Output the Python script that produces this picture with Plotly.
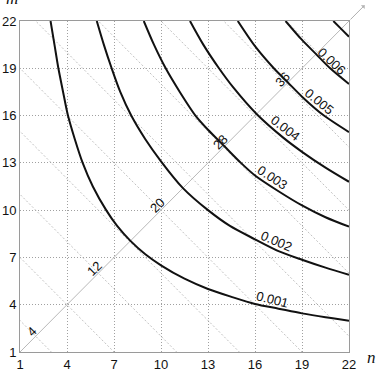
import plotly.graph_objects as go

# ---- data ----
tick_vals = [1, 4, 7, 10, 13, 16, 19, 22]
s_values = [4, 8, 12, 16, 20, 24, 28, 32, 36, 40]
s_labels = [4, 12, 20, 28, 36]

curve_labels = ["0.001", "0.002", "0.003", "0.004", "0.005", "0.006", ""]

c1_n = [2.95, 3.2, 3.45, 3.75, 4.05, 4.5, 5.0, 5.65, 6.5, 7.2, 8.05, 9.0, 10.0, 11.5, 13.0, 14.5, 16.0, 17.5, 19.0, 20.5, 22.0]
c1_m = [22.0, 20.5, 19.0, 17.5, 16.05, 14.5, 13.0, 11.5, 10.0, 9.0, 8.05, 7.2, 6.5, 5.65, 5.0, 4.5, 4.05, 3.75, 3.45, 3.2, 2.98]

c2_n = [5.9, 6.35, 6.85, 7.4, 8.1, 9.0, 10.0, 11.4, 13.0, 14.4, 16.0, 17.5, 19.0, 20.5, 22.0]
c2_m = [22.0, 20.5, 19.0, 17.5, 16.0, 14.5, 13.1, 11.4, 10.0, 9.0, 8.15, 7.4, 6.85, 6.35, 5.9]

c3_n = [8.9, 9.55, 10.3, 11.2, 12.2, 13.0, 14.05, 15.1, 16.0, 17.5, 19.0, 20.5, 22.0]
c3_m = [22.0, 20.5, 19.0, 17.5, 16.0, 15.1, 14.05, 13.0, 12.2, 11.2, 10.3, 9.55, 8.95]

c4_n = [11.85, 12.7, 13.7, 14.6, 16.1, 17.8, 19.0, 20.5, 22.0]
c4_m = [22.0, 20.5, 19.0, 17.8, 16.1, 14.6, 13.7, 12.7, 11.8]

c5_n = [14.9, 16.0, 17.2, 18.1, 19.0, 20.4, 22.0]
c5_m = [22.0, 20.4, 19.0, 18.1, 17.2, 16.0, 14.95]

c6_n = [17.95, 19.0, 19.9, 20.8, 22.0]
c6_m = [22.0, 20.8, 19.9, 19.0, 18.0]

c7_n = [21.0, 21.5, 22.0]
c7_m = [22.0, 21.5, 21.0]

curves_n = [c1_n, c2_n, c3_n, c4_n, c5_n, c6_n, c7_n]
curves_m = [c1_m, c2_m, c3_m, c4_m, c5_m, c6_m, c7_m]

# ---- figure ----
fig = go.Figure()

# anti-diagonal dotted lines n + m = s
for s in s_values:
    fig.add_trace(go.Scatter(x=[s - 25, 25], y=[25, s - 25], mode="lines",
                             line=dict(color="#c2c2c2", width=1, dash="2px,2px"),
                             hoverinfo="skip", showlegend=False))

# main diagonal
fig.add_trace(go.Scatter(x=[1, 22], y=[1, 22], mode="lines",
                         line=dict(color="#b8b8b8", width=1),
                         hoverinfo="skip", showlegend=False))

# level curves
for xs, ys in zip(curves_n, curves_m):
    fig.add_trace(go.Scatter(x=xs, y=ys, mode="lines",
                             line=dict(color="#111111", width=2, shape="spline", smoothing=0.8),
                             hoverinfo="skip", showlegend=False))

annotations = []

# curve labels (position along curve, angle)
label_pos = [(17.1, 4.3, 14), (17.4, 8.0, 23), (17.1, 12.05, 33),
             (17.96, 15.18, 37), (20.1, 16.9, 39), (20.9, 19.4, 43)]
for txt, (lx, ly, ang) in zip(curve_labels, label_pos):
    annotations.append(dict(x=lx, y=ly, xref="x", yref="y", text=txt,
                            showarrow=False, textangle=ang,
                            font=dict(family="Liberation Sans, Arial", size=13, color="#111")))

# diagonal s labels
for s in s_labels:
    annotations.append(dict(x=s / 2, y=s / 2, xref="x", yref="y", text=str(s),
                            showarrow=False, textangle=-45, xshift=-4, yshift=5,
                            font=dict(family="Liberation Sans, Arial", size=13, color="#111")))

# arrow at the end of the diagonal
annotations.append(dict(x=23.0, y=23.0, ax=22, ay=22, xref="x", yref="y",
                        axref="x", ayref="y", text="", showarrow=True,
                        arrowhead=1, arrowsize=0.9, arrowwidth=1, arrowcolor="#b0b0b0"))
annotations.append(dict(x=22.15, y=22.8, xref="x", yref="y", text="s",
                        showarrow=False, textangle=-45,
                        font=dict(family="Liberation Serif, Times New Roman", size=15, color="#111")))

# axis titles
annotations.append(dict(x=-0.024, y=1.033, xref="paper", yref="paper", text="<i>m</i>",
                        showarrow=False, xanchor="center", yanchor="bottom",
                        font=dict(family="Liberation Serif, Times New Roman", size=17, color="#111")))
annotations.append(dict(x=1.068, y=-0.017, xref="paper", yref="paper", text="<i>n</i>",
                        showarrow=False, xanchor="center", yanchor="middle",
                        font=dict(family="Liberation Serif, Times New Roman", size=17, color="#111")))

axis_common = dict(range=[1, 22], tickmode="array", tickvals=tick_vals,
                   ticktext=[str(v) for v in tick_vals], automargin=False,
                   showgrid=True, gridcolor="#a0a0a0", griddash="1px,2px", gridwidth=1,
                   showline=True, linecolor="#9a9a9a", linewidth=1, mirror=True,
                   zeroline=False, ticks="",
                   tickfont=dict(family="Liberation Sans, Arial", size=13, color="#111"))

fig.update_layout(
    width=380, height=372,
    margin=dict(l=20, r=31, t=21, b=20, autoexpand=False),
    paper_bgcolor="white", plot_bgcolor="white",
    xaxis=axis_common, yaxis=axis_common,
    annotations=annotations, showlegend=False,
)

fig.write_html("out.html", config={"displayModeBar": False},
               post_script="document.body.style.margin='0';document.body.style.overflow='hidden';")
